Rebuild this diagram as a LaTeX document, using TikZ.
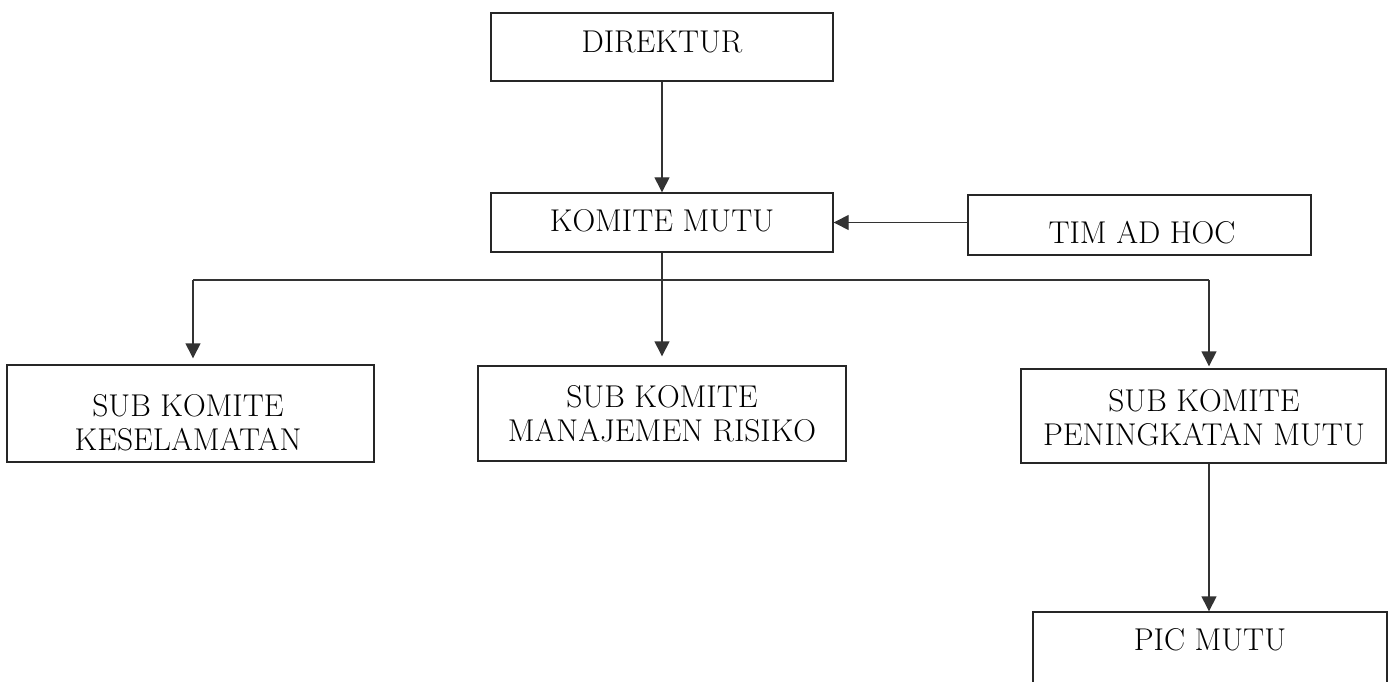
\documentclass[tikz,border=0pt]{standalone}
\usetikzlibrary{arrows.meta}
\begin{document}
\begin{tikzpicture}[x=1pt,y=-1pt,
  box/.style={draw=black!85,line width=1.4pt,rectangle,inner sep=0pt},
  txt/.style={inner sep=0pt,align=center,font=\fontsize{31.5}{34}\selectfont},
  arr/.style={draw=black!80,line width=1.4pt,-{Triangle[width=15pt,length=15pt]}},
  ln/.style={draw=black!80,line width=1.4pt}]
\path[use as bounding box,clip] (0,0) rectangle (1390,682);
% boxes
\node[box,minimum width=342pt,minimum height=68pt] (dir) at (662,47) {};
\node[txt] (dirt) at (662,42) {DIREKTUR};
\node[box,minimum width=342pt,minimum height=59pt] (km) at (662,222.5) {};
\node[txt] (kmt) at (662,221) {KOMITE MUTU};
\node[box,minimum width=343pt,minimum height=60pt] (tim) at (1139.5,225) {};
\node[txt] (timt) at (1142,233) {TIM AD HOC};
\node[box,minimum width=367pt,minimum height=97pt] (kes) at (190.5,413.5) {};
\node[txt] (kest) at (188,423) {SUB KOMITE\\KESELAMATAN};
\node[box,minimum width=368pt,minimum height=95pt] (mr) at (662,413.5) {};
\node[txt] (mrt) at (662,414) {SUB KOMITE\\MANAJEMEN RISIKO};
\node[box,minimum width=365pt,minimum height=94pt] (pm) at (1203.5,416) {};
\node[txt] (pmt) at (1204,418) {SUB KOMITE\\PENINGKATAN MUTU};
\node[box,minimum width=354pt,minimum height=100pt] (pic) at (1210,662) {};
\node[txt] (pict) at (1210,640) {PIC MUTU};
% connectors
\draw[arr] (dir.south) -- (km.north);
\draw[arr] (tim.west |- km.east) -- (km.east);
\coordinate (bl) at (193,280);
\coordinate (br) at (1209,280);
\draw[ln] (bl) -- (br);
\draw[arr,shorten >=6pt] (bl) -- (bl |- kes.north);
\draw[arr,shorten >=9pt] (km.south) -- (mr.north);
\draw[arr,shorten >=2pt] (br) -- (br |- pm.north);
\draw[arr] (br |- pm.south) -- (br |- pic.north);
\end{tikzpicture}
\end{document}
